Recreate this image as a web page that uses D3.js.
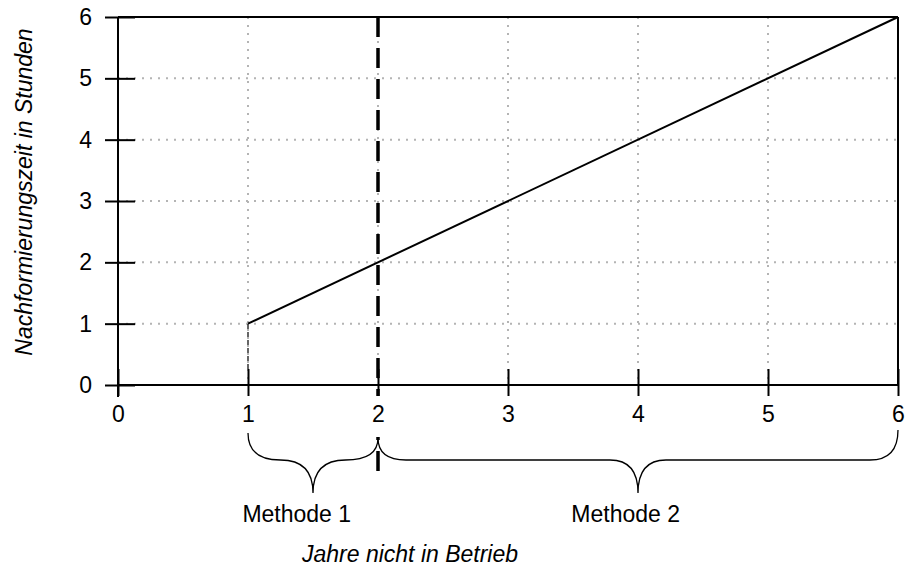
<!DOCTYPE html>
<html>
<head>
<meta charset="utf-8">
<script src="https://cdn.jsdelivr.net/npm/d3@7"></script>
<style>
  body { margin: 0; background: #fff; }
  svg text { font-family: "Liberation Sans", Arial, sans-serif; fill: #000; }
</style>
</head>
<body>
<svg width="905" height="569"></svg>
<script>
// values
var xTicks = [0, 1, 2, 3, 4, 5, 6];
var yTicks = [0, 1, 2, 3, 4, 5, 6];
var lineYears = [1, 6];
var lineHours = [1, 6];
var stemYears = [1, 1];
var stemHours = [0, 1];
var splitYear = 2;
var methodNames = ["Methode 1", "Methode 2"];
var methodFrom = [1, 2];
var methodTo = [2, 6];
var methodTip = [1.5, 4];
var methodLabelAt = [1.375, 3.905];

var svg = d3.select("svg"),
    margin = {top: 17, right: 7, bottom: 184, left: 118},
    width = +svg.attr("width") - margin.left - margin.right,
    height = +svg.attr("height") - margin.top - margin.bottom,
    g = svg.append("g").attr("transform", "translate(" + margin.left + "," + margin.top + ")");

var x = d3.scaleLinear().domain([0, 6]).range([0, width]);
var y = d3.scaleLinear().domain([0, 6]).range([height, 0]);

// dotted grid
g.selectAll(".gx")
    .data(xTicks.filter(function (d) { return d > 0 && d < 6; }))
    .enter().append("line")
    .attr("x1", function (d) { return x(d); })
    .attr("x2", function (d) { return x(d); })
    .attr("y1", 0).attr("y2", height)
    .attr("stroke", "#b4b4b4").attr("stroke-width", 2)
    .attr("stroke-dasharray", "2,6");

g.selectAll(".gy")
    .data(yTicks.filter(function (d) { return d > 0 && d < 6; }))
    .enter().append("line")
    .attr("y1", function (d) { return y(d); })
    .attr("y2", function (d) { return y(d); })
    .attr("x1", 0).attr("x2", width)
    .attr("stroke", "#b4b4b4").attr("stroke-width", 2)
    .attr("stroke-dasharray", "2,6");

// frame top / right
g.append("line").attr("x1", 0).attr("x2", width).attr("y1", 0).attr("y2", 0)
    .attr("stroke", "#000").attr("stroke-width", 2);
g.append("line").attr("x1", width).attr("x2", width).attr("y1", 0).attr("y2", height)
    .attr("stroke", "#000").attr("stroke-width", 2);

// axes
var yAxis = g.append("g")
    .call(d3.axisLeft(y).tickValues(yTicks).tickFormat(d3.format("d")).tickSize(13).tickPadding(13));
yAxis.select(".domain").remove();
yAxis.selectAll(".tick line").attr("x1", 17).attr("x2", -13).attr("stroke-width", 2);
yAxis.selectAll("text").attr("font-size", 23).attr("font-family", null);
g.append("line").attr("x1", 0).attr("x2", 0).attr("y1", 0).attr("y2", height + 12)
    .attr("stroke", "#000").attr("stroke-width", 2);

var xAxis = g.append("g")
    .attr("transform", "translate(0," + height + ")")
    .call(d3.axisBottom(x).tickValues(xTicks).tickFormat(d3.format("d")).tickSize(11).tickPadding(10));
xAxis.select(".domain").remove();
xAxis.selectAll(".tick line").attr("y1", -16).attr("y2", 11).attr("stroke-width", 2);
xAxis.selectAll("text").attr("font-size", 23).attr("font-family", null);
g.append("line").attr("x1", 0).attr("x2", width).attr("y1", height).attr("y2", height)
    .attr("stroke", "#000").attr("stroke-width", 2);

// stem at year 1
g.append("line")
    .attr("x1", x(stemYears[0])).attr("x2", x(stemYears[1]))
    .attr("y1", y(stemHours[0]) - 16).attr("y2", y(stemHours[1]))
    .attr("stroke", "#000").attr("stroke-width", 1.2)
    .attr("stroke-dasharray", "5,3");

// main line
var line = d3.line()
    .x(function (d) { return x(d[0]); })
    .y(function (d) { return y(d[1]); });
g.append("path")
    .datum(d3.zip(lineYears, lineHours))
    .attr("d", line)
    .attr("fill", "none").attr("stroke", "#000").attr("stroke-width", 2);

// dashed split at year 2
g.append("line")
    .attr("x1", x(splitYear)).attr("x2", x(splitYear))
    .attr("y1", y(6)).attr("y2", height + 11)
    .attr("stroke", "#000").attr("stroke-width", 3.5)
    .attr("stroke-dasharray", "20,11");
g.append("line")
    .attr("x1", x(splitYear)).attr("x2", x(splitYear))
    .attr("y1", height + 52).attr("y2", height + 87)
    .attr("stroke", "#000").attr("stroke-width", 3.5)
    .attr("stroke-dasharray", "20,11").attr("stroke-dashoffset", 17);

// braces
function brace(x0, x1, xm, yTop0, yTop1, yMid, yTip, r) {
    return "M" + x0 + "," + yTop0 +
        "Q" + x0 + "," + yMid + " " + (x0 + r) + "," + yMid +
        "L" + (xm - r) + "," + yMid +
        "Q" + xm + "," + yMid + " " + xm + "," + yTip +
        "Q" + xm + "," + yMid + " " + (xm + r) + "," + yMid +
        "L" + (x1 - r) + "," + yMid +
        "Q" + x1 + "," + yMid + " " + x1 + "," + yTop1;
}
var braceTop = [[height + 48, height + 53], [height + 53, height + 45]];
var braceR = [32.5, 28];
methodNames.forEach(function (name, i) {
    g.append("path")
        .attr("d", brace(x(methodFrom[i]), x(methodTo[i]), x(methodTip[i]),
            braceTop[i][0], braceTop[i][1], height + 75, height + 108, braceR[i]))
        .attr("fill", "none").attr("stroke", "#000").attr("stroke-width", 1.3);
    g.append("text")
        .attr("x", x(methodLabelAt[i]))
        .attr("y", height + 137)
        .attr("text-anchor", "middle")
        .attr("font-size", 23)
        .text(name);
});

// axis titles
svg.append("text")
    .attr("x", 302).attr("y", 562)
    .attr("font-size", 23).attr("font-style", "italic")
    .text("Jahre nicht in Betrieb");

svg.append("text")
    .attr("transform", "translate(32,192) rotate(-90)")
    .attr("text-anchor", "middle")
    .attr("font-size", 23).attr("font-style", "italic")
    .text("Nachformierungszeit in Stunden");
</script>
</body>
</html>
